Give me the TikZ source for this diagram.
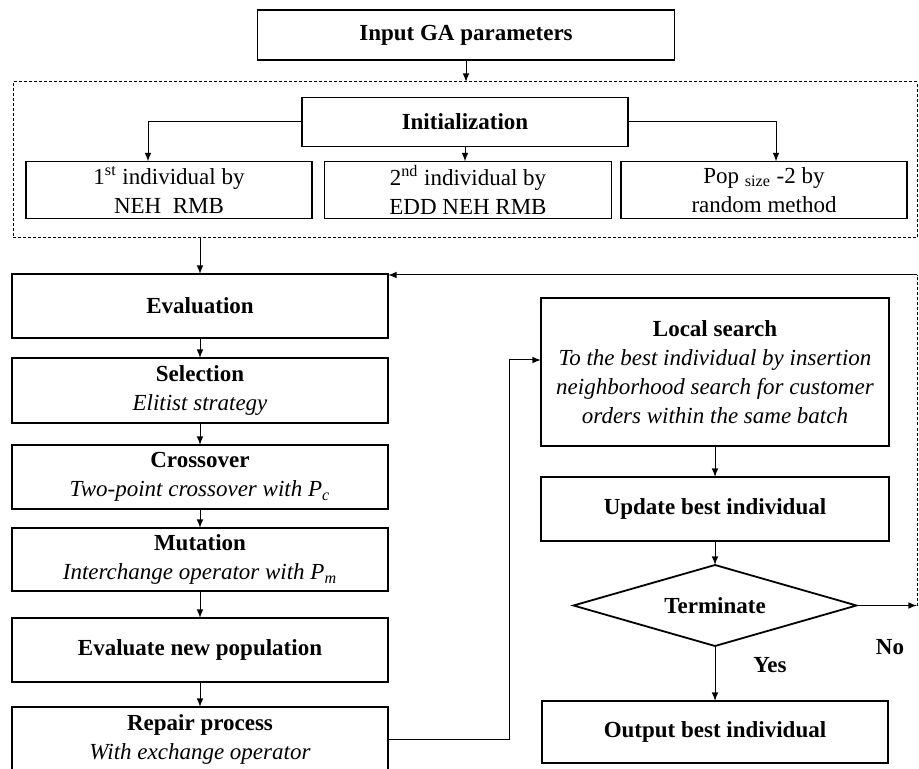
\documentclass[tikz,border=0pt]{standalone}
\usepackage{fontspec}
\setmainfont{Liberation Serif}
\usetikzlibrary{shapes.geometric}

\tikzstyle{block}=[%
	draw, line width=0.9pt, align=center, inner sep=2pt, outer sep=0,
	font=\fontsize{11.5}{14.5}\selectfont
]
\tikzstyle{popframe}=[%
	draw, line width=0.5pt, dash pattern=on 1.5pt off 1pt, inner sep=0, outer sep=0
]
\tikzstyle{flow}=[->, >=latex, line width=0.5pt]

\begin{document}
\begin{tikzpicture}[x=0.5pt, y=-0.5pt]
	\useasboundingbox (0,0) rectangle (919,769);

	\node[block, minimum width=208.5pt, minimum height=25pt] (input) at (466,35) {\textbf{Input GA parameters}};

	% initial population
	\node[popframe, minimum width=452pt, minimum height=78pt] (pop) at (465,160) {};
	\node[block, minimum width=163pt, minimum height=24.5pt] (init) at (465,122) {\textbf{Initialization}};
	\node[block, minimum width=143pt, minimum height=28.5pt] (ind1) at (169,190) {1\textsuperscript{st} individual by\\NEH\ \ RMB};
	\node[block, minimum width=143.5pt, minimum height=28.5pt] (ind2) at (468,190) {2\textsuperscript{nd} individual by\\EDD NEH RMB};
	\node[block, minimum width=143pt, minimum height=28.5pt] (ind3) at (764,190) {Pop \textsubscript{size} -2 by\\random method};

	\draw[flow] (input.south) -- (input.south |- pop.north);
	\draw[flow] (init.west) -| ([xshift=-10.5pt]ind1.north);
	\draw[flow] (init.south) -- (init.south |- ind2.north);
	\draw[flow] (init.east) -| ([xshift=6pt]ind3.north);

	% GA loop
	\node[block, minimum width=188pt, minimum height=32pt] (eval) at (200,306) {\textbf{Evaluation}};
	\node[block, minimum width=188pt, minimum height=32.5pt] (sel) at (200,390.5) {\textbf{Selection}\\\textit{Elitist strategy}};
	\node[block, minimum width=188pt, minimum height=32pt] (cross) at (200,477) {\textbf{Crossover}\\\textit{Two-point crossover with P\textsubscript{c}}};
	\node[block, minimum width=188pt, minimum height=31.5pt] (mut) at (200,559.5) {\textbf{Mutation}\\\textit{Interchange operator with P\textsubscript{m}}};
	\node[block, minimum width=188pt, minimum height=32pt] (evalnew) at (200,650) {\textbf{Evaluate new population}};
	\node[block, minimum width=188pt, minimum height=32pt] (repair) at (200,739) {\textbf{Repair process}\\\textit{With exchange operator}};

	\draw[flow] (eval.north |- pop.south) -- (eval.north);
	\foreach \a/\b in {eval/sel, sel/cross, cross/mut, mut/evalnew, evalnew/repair} {
		\draw[flow] (\a) -- (\b);
	};

	\node[block, minimum width=174pt, minimum height=74pt] (local) at (715,372) {\textbf{Local search}\\\textit{To the best individual by insertion}\\\textit{neighborhood search for customer}\\\textit{orders within the same batch}};
	\node[block, minimum width=174pt, minimum height=32pt] (update) at (715,509) {\textbf{Update best individual}};
	\node[block, diamond, aspect=3.5, inner sep=0, minimum width=141.5pt, minimum height=40.5pt] (term) at (715,605.5) {\textbf{Terminate}};
	\node[block, minimum width=173pt, minimum height=31pt] (output) at (715,732) {\textbf{Output best individual}};

	\draw[flow] (repair.east) -- ++(121,0) |- ([yshift=6pt]local.west);
	\foreach \a/\b in {local/update, update/term, term/output} {
		\draw[flow] (\a) -- (\b);
	};

	\node[font=\fontsize{11.5}{14.5}\selectfont\bfseries] (yes) at (770,665) {Yes};
	\node[font=\fontsize{11.5}{14.5}\selectfont\bfseries] (no) at (890,647) {No};

	% back to evaluation
	\coordinate (noend) at (917,605.5);
	\coordinate (back) at (917,275);
	\draw[flow] (term.east) -- (noend);
	\draw[line width=0.5pt, dash pattern=on 1.5pt off 1pt] (noend) -- (back);
	\draw[flow] (back) -- (back -| eval.east);
\end{tikzpicture}
\end{document}
